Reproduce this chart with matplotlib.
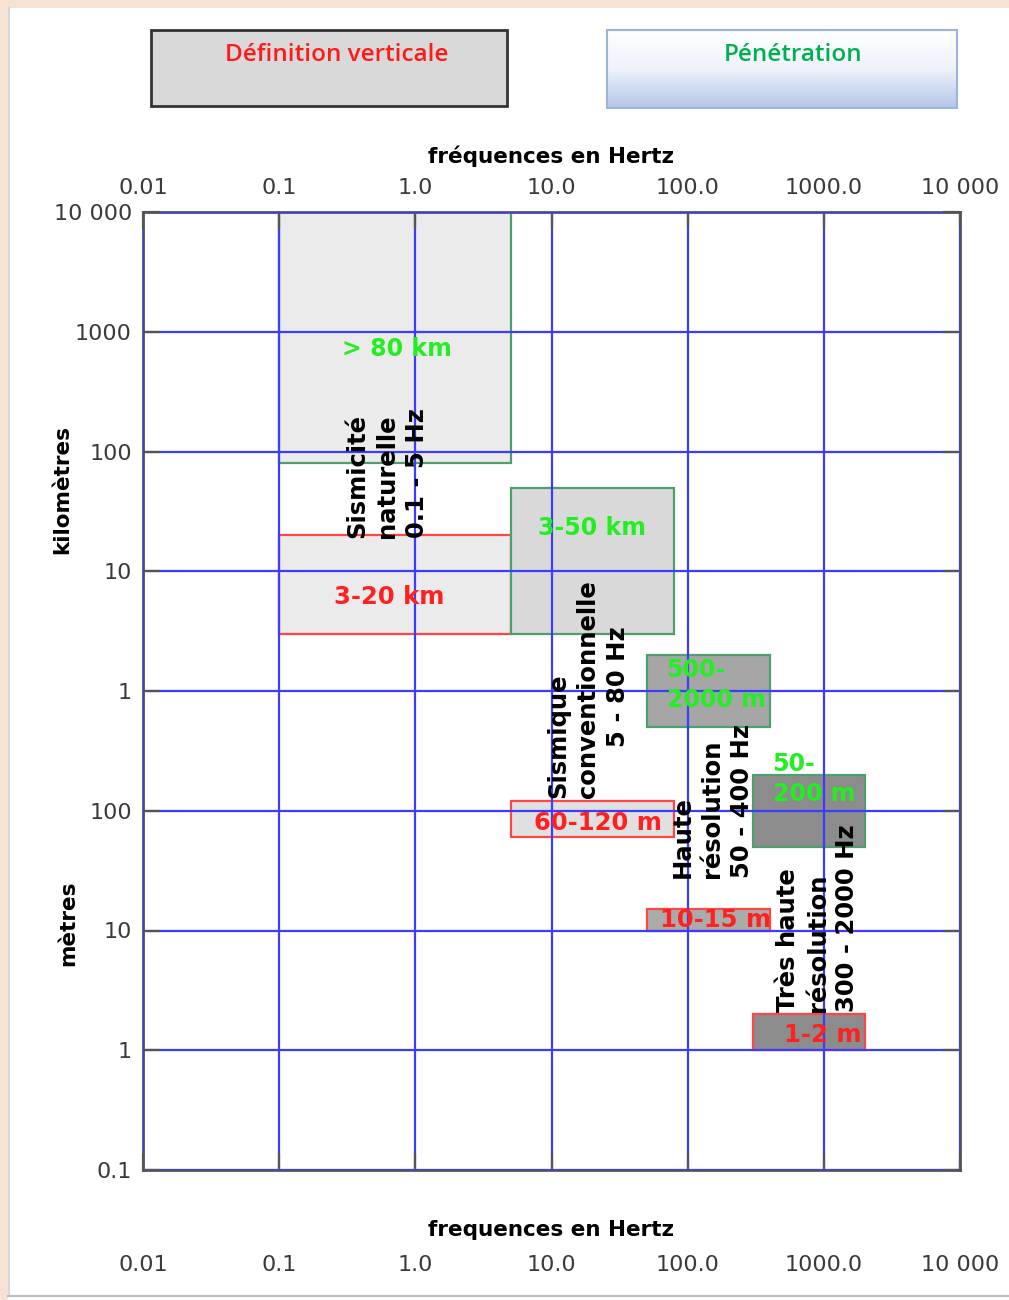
import numpy as np
import matplotlib
matplotlib.use("Agg")
import matplotlib.pyplot as plt
from matplotlib.patches import Rectangle
from matplotlib.transforms import blended_transform_factory
from matplotlib.colors import LinearSegmentedColormap

# Seismic methods and their frequency bands (Hz)
methods = ["Sismicité\nnaturelle\n0.1 - 5 Hz",
           "Sismique\nconventionnelle\n      5 - 80 Hz",
           "Haute\nrésolution\n50 - 400 Hz",
           "Très haute\nrésolution\n300 - 2000 Hz"]
freq_min = [0.1, 5, 50, 300]
freq_max = [5, 80, 400, 2000]

# Penetration depth (m); the first band runs up to the top of the scale
pen_min = [80e3, 3e3, 500, 50]
pen_max = [1e7, 50e3, 2000, 200]
pen_labels = ["> 80 km", "3-50 km", "500-\n2000 m", "50-\n200 m"]

# Vertical resolution (m)
res_min = [3e3, 60, 10, 1]
res_max = [20e3, 120, 15, 2]
res_labels = ["3-20 km", "60-120 m", "10-15 m", "1-2 m"]

x_ticks = [0.01, 0.1, 1, 10, 100, 1000, 10000]
x_ticklabels = ["0.01", "0.1", "1.0", "10.0", "100.0", "1000.0", "10 000"]
y_ticks = [1e7, 1e6, 1e5, 1e4, 1e3, 1e2, 1e1, 1, 0.1]
y_ticklabels = ["10 000", "1000", "100", "10", "1", "100", "10", "1", "0.1"]

# Label anchors (data coordinates)
method_pos = [(0.62, 1.9e4), (18.5, 128), (151, 27.4), (903, 2.08)]
pen_pos = [(0.73, 7.2e5), (20, 2.3e4), (70, 1.12e3), (420, 184)]
pen_ha = ["center", "center", "left", "left"]
res_pos = [(0.64, 6.1e3), (22, 79), (160, 12.2), (980, 1.34)]

pen_fill = ["#ebebeb", "#d9d9d9", "#a6a6a6", "#8c8c8c"]
res_fill = ["#ebebeb", "#e0e0e0", "#ababab", "#8c8c8c"]
GREEN_EDGE = "#4f9f6c"
RED_EDGE = "#ff4545"
GREEN_TXT = "#22ee22"
RED_TXT = "#ff2020"

W, H = 1009, 1300
fig = plt.figure(figsize=(W / 100, H / 100), dpi=100)
fig.patch.set_facecolor("white")

# Decorative page layer in pixel units
bg = fig.add_axes([0, 0, 1, 1], zorder=0)
bg.axis("off")
bg.add_patch(Rectangle((0, 0), W, 8, color="#f6e2d3", lw=0))
bg.add_patch(Rectangle((0, 0), 8, H, color="#f6e2d3", lw=0))
bg.plot([8.5, 8.5], [8, 1296], color="#d0d0d0", lw=1.2)
bg.plot([8, W], [1296, 1296], color="#bdbdbd", lw=1.5)

# Legend boxes
bg.add_patch(Rectangle((151, 30), 356, 76, fc="#d9d9d9", ec="#333333", lw=2))
bg.text(337, 55, "Définition verticale", color="#ff1a1a", fontsize=17.5,
        fontweight="semibold", family=["Open Sans", "DejaVu Sans"],
        ha="center", va="center")
grad = np.linspace(0, 1, 100).reshape(-1, 1)
cmap = LinearSegmentedColormap.from_list("leg", ["#ffffff", "#eef2fa", "#b3c6e8"])
bg.imshow(grad, cmap=cmap, extent=(607, 957, 108, 30), aspect="auto",
          origin="upper", interpolation="bilinear")
bg.add_patch(Rectangle((607, 30), 350, 78, fill=False, ec="#9db4de", lw=1.5))
bg.text(793, 55, "Pénétration", color="#00b050", fontsize=17.5,
        fontweight="semibold", family=["Open Sans", "DejaVu Sans"],
        ha="center", va="center")
bg.set_xlim(0, W)
bg.set_ylim(H, 0)

# Main log-log chart
ax = fig.add_axes([143 / W, 130 / H, 817 / W, 958 / H], zorder=2)
ax.set_xscale("log")
ax.set_yscale("log")
ax.set_xlim(0.01, 10000)
ax.set_ylim(0.1, 1e7)
ax.minorticks_off()

for i in range(len(methods)):
    ax.add_patch(Rectangle((freq_min[i], pen_min[i]), freq_max[i] - freq_min[i],
                           pen_max[i] - pen_min[i], fc=pen_fill[i],
                           ec=GREEN_EDGE, lw=1.6, zorder=1))
    ax.add_patch(Rectangle((freq_min[i], res_min[i]), freq_max[i] - freq_min[i],
                           res_max[i] - res_min[i], fc=res_fill[i],
                           ec=RED_EDGE, lw=1.6, zorder=1))

ax.grid(True, which="major", color="#3c3cff", lw=1.6)
ax.set_axisbelow(False)

for i in range(len(methods)):
    ax.text(*method_pos[i], methods[i], rotation=90, ha="center", va="bottom",
            multialignment="left", fontsize=17.5, fontweight="bold",
            color="black", linespacing=1.3, zorder=4)
    ax.text(*pen_pos[i], pen_labels[i], ha=pen_ha[i], va="center",
            multialignment="left", fontsize=17, fontweight="bold",
            color=GREEN_TXT, linespacing=1.35, zorder=4)
    ax.text(*res_pos[i], res_labels[i], ha="center", va="center",
            fontsize=17.5, fontweight="bold", color=RED_TXT, zorder=4)

ax.set_xticks(x_ticks)
ax.set_xticklabels(x_ticklabels)
ax.set_yticks(y_ticks)
ax.set_yticklabels(y_ticklabels)
ax.tick_params(which="major", direction="in", length=12, width=1.6,
               color="#555555", top=True, right=True, bottom=True, left=True,
               labeltop=True, labelbottom=False, labelsize=16,
               labelcolor="#3a3a3a")
ax.xaxis.set_tick_params(pad=10)
ax.yaxis.set_tick_params(pad=8)
for s in ax.spines.values():
    s.set_color("#555555")
    s.set_linewidth(2)

ax.xaxis.set_label_position("top")
ax.set_xlabel("fréquences en Hertz", fontsize=15.5, fontweight="bold", labelpad=11)

# Bottom frequency scale, written under the plot
bt = blended_transform_factory(ax.transData, ax.transAxes)
for xv, lab in zip(x_ticks, x_ticklabels):
    ax.text(xv, -0.099, lab, transform=bt, ha="center", va="center",
            fontsize=16, color="#3a3a3a", clip_on=False)
ax.text(0.5, -0.063, "frequences en Hertz", transform=ax.transAxes,
        ha="center", va="center", fontsize=15.5, fontweight="bold", clip_on=False)

ax.text(-0.099, 0.71, "kilomètres", transform=ax.transAxes, rotation=90,
        ha="center", va="center", fontsize=15.5, fontweight="bold")
ax.text(-0.092, 0.258, "mètres", transform=ax.transAxes, rotation=90,
        ha="center", va="center", fontsize=15.5, fontweight="bold")

fig.savefig("out.png", dpi=100)
